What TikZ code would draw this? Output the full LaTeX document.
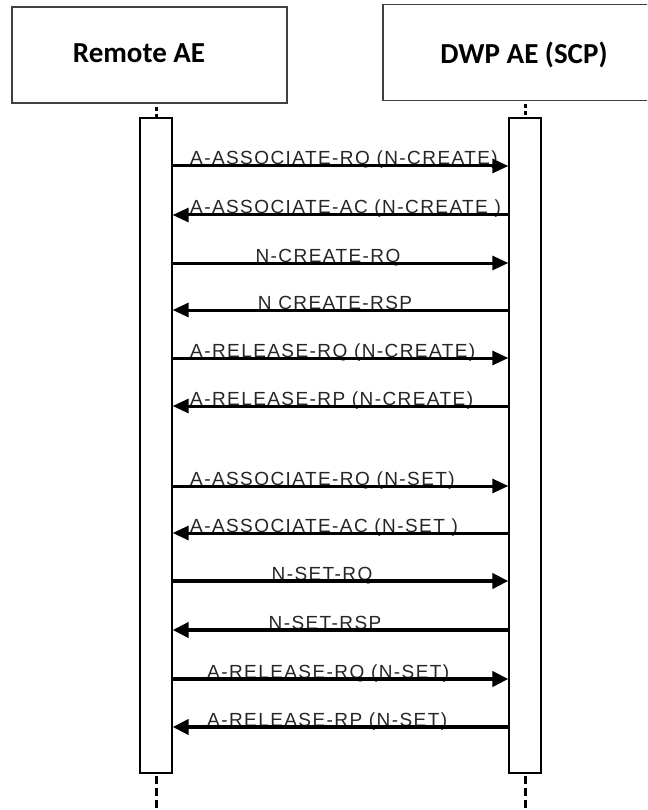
\documentclass[tikz,border=0pt]{standalone}
\usepackage{fontspec}
\usetikzlibrary{arrows.meta}
\newfontfamily\lblfont[LetterSpace=7.5]{Liberation Sans}
\newfontfamily\hdrfont{Carlito}
\begin{document}
\begin{tikzpicture}[x=1pt,y=-1pt,
  hdrbox/.style={draw=black!75, line width=1.5pt, minimum width=275pt, minimum height=96pt, inner sep=0pt},
  hdrtext/.style={font=\hdrfont\bfseries\fontsize{29}{33}\selectfont, inner sep=0pt},
  actbar/.style={draw=black, fill=white, line width=1.3pt, minimum width=32pt, minimum height=655pt, inner sep=0pt},
  lifetop/.style={line width=3pt, dash pattern=on 4pt off 3pt},
  lifebot/.style={line width=3pt, dash pattern=on 8pt off 4pt},
  msg/.style={line width=3pt, -{Triangle[length=16pt,width=14pt]}},
  msgb/.style={line width=4pt, -{Triangle[length=16pt,width=15pt]}},
  lbl/.style={font=\lblfont\fontsize{19}{21}\selectfont, inner sep=0pt, text=black!85}
]
\clip (0,0) rectangle (647,810);
\fill[white] (0,0) rectangle (647,810);

% header boxes
\node[hdrbox] (remote) at (149.5,55) {};
\node[hdrtext] (remotelbl) at (139,53) {Remote AE};
\node[hdrbox, minimum width=290pt] (dwp) at (528,52.5) {};
\node[hdrtext] (dwplbl) at (524,55) {DWP AE (SCP)};

% activation bars
\node[actbar] (barL) at (156,445.5) {};
\node[actbar] (barR) at (525,445.5) {};

% lifelines
\draw[lifetop] ([yshift=-3pt]barL.north |- remote.south) -- (barL.north);
\draw[lifetop] ([yshift=-3pt]barR.north |- dwp.south) -- (barR.north);
\coordinate (endL) at (156,808);
\coordinate (endR) at (525,808);
\draw[lifebot] ([yshift=-2pt]barL.south) -- (endL);
\draw[lifebot] ([yshift=-2pt]barR.south) -- (endR);

% message levels
\coordinate (m1) at (0,166);
\coordinate (m2) at (0,215);
\coordinate (m3) at (0,263);
\coordinate (m4) at (0,310);
\coordinate (m5) at (0,358);
\coordinate (m6) at (0,406);
\coordinate (m7) at (0,486);
\coordinate (m8) at (0,533);
\coordinate (m9) at (0,581);
\coordinate (m10) at (0,630);
\coordinate (m11) at (0,679);
\coordinate (m12) at (0,727);

% labels
\node[lbl, anchor=base west] (l1) at (190,165) {A-ASSOCIATE-RQ (N-CREATE)};
\node[lbl, anchor=base west] (l2) at (190,214) {A-ASSOCIATE-AC (N-CREATE )};
\node[lbl, anchor=base] (l3) at (328,262) {N-CREATE-RQ};
\node[lbl, anchor=base] (l4) at (335,309) {N CREATE-RSP};
\node[lbl, anchor=base west] (l5) at (190,357) {A-RELEASE-RQ (N-CREATE)};
\node[lbl, anchor=base west] (l6) at (190,405) {A-RELEASE-RP (N-CREATE)};
\node[lbl, anchor=base west] (l7) at (190,485) {A-ASSOCIATE-RQ (N-SET)};
\node[lbl, anchor=base west] (l8) at (190,532) {A-ASSOCIATE-AC (N-SET )};
\node[lbl, anchor=base] (l9) at (322,580) {N-SET-RQ};
\node[lbl, anchor=base] (l10) at (325,629) {N-SET-RSP};
\node[lbl, anchor=base west] (l11) at (207,678) {A-RELEASE-RQ (N-SET)};
\node[lbl, anchor=base west] (l12) at (207,726) {A-RELEASE-RP (N-SET)};

% messages
\draw[msg] (barL.east |- m1) -- (barR.west |- m1);
\draw[msg] (barR.west |- m2) -- (barL.east |- m2);
\draw[msg] (barL.east |- m3) -- (barR.west |- m3);
\draw[msg] (barR.west |- m4) -- (barL.east |- m4);
\draw[msg] (barL.east |- m5) -- (barR.west |- m5);
\draw[msg] (barR.west |- m6) -- (barL.east |- m6);
\draw[msg] (barL.east |- m7) -- (barR.west |- m7);
\draw[msg] (barR.west |- m8) -- (barL.east |- m8);
\draw[msgb] (barL.east |- m9) -- (barR.west |- m9);
\draw[msgb] (barR.west |- m10) -- (barL.east |- m10);
\draw[msgb] (barL.east |- m11) -- (barR.west |- m11);
\draw[msgb] (barR.west |- m12) -- (barL.east |- m12);
\end{tikzpicture}
\end{document}
